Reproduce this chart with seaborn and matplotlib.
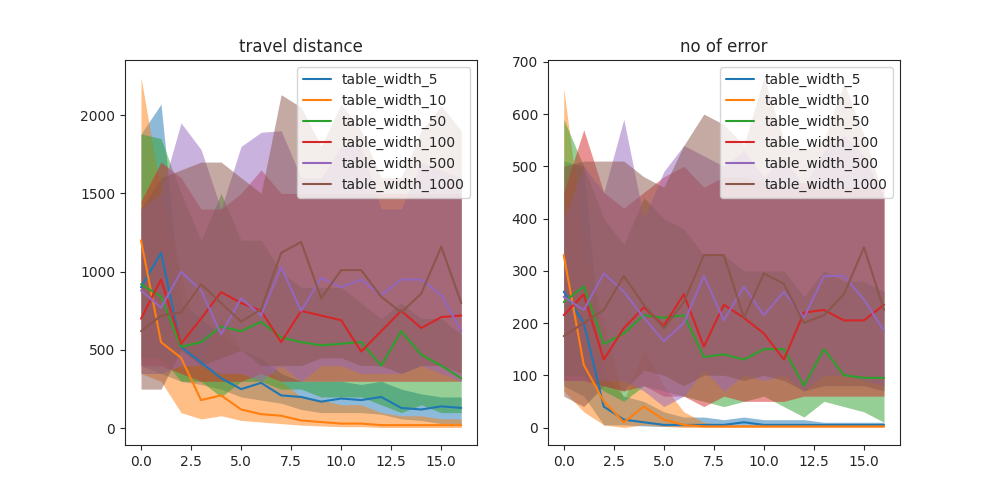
import numpy as np
import seaborn as sns
import matplotlib
matplotlib.use("Agg")
import matplotlib.pyplot as plt

steps = list(range(17))
names = ["table_width_5", "table_width_10", "table_width_50",
         "table_width_100", "table_width_500", "table_width_1000"]

# travel distance: mean, lower, upper
dist_mean = [
    [900, 1120, 520, 420, 320, 250, 290, 210, 200, 170, 190, 180, 200, 130, 120, 140, 130],
    [1200, 550, 450, 180, 210, 120, 90, 80, 50, 40, 30, 30, 20, 20, 20, 20, 20],
    [920, 840, 520, 550, 650, 620, 680, 580, 550, 530, 540, 550, 400, 620, 470, 400, 320],
    [700, 950, 540, 700, 870, 800, 750, 550, 750, 720, 690, 490, 620, 750, 640, 710, 720],
    [880, 770, 1000, 880, 600, 830, 720, 1030, 750, 960, 900, 950, 850, 950, 950, 850, 620],
    [620, 720, 740, 920, 800, 680, 760, 1120, 1190, 830, 1010, 1010, 840, 740, 860, 1160, 800],
]
dist_low = [
    [400, 350, 300, 280, 250, 200, 180, 160, 120, 100, 100, 100, 90, 60, 50, 30, 30],
    [350, 300, 100, 60, 80, 50, 40, 30, 20, 15, 10, 10, 5, 5, 5, 5, 5],
    [450, 450, 300, 300, 200, 300, 300, 250, 250, 200, 200, 200, 150, 100, 150, 100, 100],
    [400, 400, 350, 300, 300, 300, 350, 300, 300, 300, 300, 300, 300, 300, 300, 300, 300],
    [350, 350, 400, 400, 350, 350, 300, 400, 300, 400, 400, 350, 350, 350, 400, 350, 300],
    [250, 250, 500, 400, 450, 500, 400, 400, 400, 450, 450, 400, 400, 350, 400, 400, 350],
]
dist_high = [
    [1880, 2070, 800, 700, 600, 500, 450, 350, 300, 300, 300, 280, 300, 250, 220, 200, 200],
    [2240, 1500, 1000, 400, 700, 500, 400, 300, 200, 180, 150, 150, 100, 80, 80, 60, 60],
    [1880, 1850, 1500, 1200, 1500, 1200, 1200, 1000, 900, 900, 900, 800, 700, 800, 700, 700, 600],
    [1450, 1700, 1600, 1400, 1400, 1500, 1650, 1500, 1500, 1500, 1500, 1500, 1500, 1500, 1500, 1500, 1500],
    [1400, 1500, 1950, 1780, 1400, 1800, 1890, 1900, 1600, 1600, 1800, 1800, 1400, 1400, 1700, 1650, 1600],
    [1400, 1600, 1650, 1700, 1700, 1600, 1500, 2130, 2050, 1800, 2070, 1900, 1600, 1600, 1900, 2060, 1900],
]

# no of error: mean, lower, upper
err_mean = [
    [260, 200, 40, 15, 10, 5, 5, 5, 5, 10, 5, 5, 5, 5, 5, 5, 5],
    [330, 120, 50, 10, 40, 15, 5, 2, 2, 2, 2, 2, 2, 2, 2, 2, 2],
    [240, 270, 160, 180, 215, 210, 215, 135, 140, 130, 150, 150, 80, 150, 100, 95, 95],
    [215, 255, 130, 190, 230, 195, 255, 155, 235, 210, 180, 130, 220, 225, 205, 205, 235],
    [250, 225, 295, 260, 210, 165, 200, 290, 205, 270, 215, 260, 210, 290, 290, 245, 185],
    [175, 200, 225, 290, 235, 190, 240, 330, 330, 210, 295, 275, 200, 215, 255, 345, 225],
]
err_low = [
    [80, 60, 5, 5, 3, 2, 2, 2, 2, 3, 2, 2, 2, 2, 2, 2, 2],
    [70, 30, 5, 0, 5, 2, 0, 0, 0, 0, 0, 0, 0, 0, 0, 0, 0],
    [100, 100, 70, 50, 80, 70, 60, 50, 40, 50, 60, 40, 20, 50, 40, 30, 10],
    [90, 90, 80, 70, 80, 60, 60, 40, 60, 50, 50, 50, 60, 60, 60, 60, 60],
    [90, 90, 90, 90, 70, 40, 60, 110, 70, 100, 90, 100, 70, 100, 100, 90, 80],
    [60, 40, 80, 70, 110, 100, 80, 100, 100, 90, 100, 90, 70, 80, 80, 80, 70],
]
err_high = [
    [510, 500, 100, 60, 50, 30, 20, 20, 15, 20, 15, 15, 15, 10, 10, 10, 10],
    [650, 350, 200, 50, 150, 80, 30, 10, 5, 5, 5, 5, 5, 5, 5, 5, 5],
    [590, 500, 400, 350, 440, 400, 380, 330, 330, 300, 300, 300, 250, 300, 280, 280, 260],
    [450, 570, 450, 420, 450, 480, 500, 460, 480, 480, 470, 460, 470, 460, 460, 460, 460],
    [400, 500, 450, 590, 400, 490, 540, 520, 500, 530, 480, 520, 460, 530, 560, 520, 440],
    [500, 510, 510, 510, 480, 460, 540, 600, 580, 540, 670, 550, 530, 550, 660, 560, 440],
]

sns.set_style("ticks")
palette = sns.color_palette("tab10", 6)
fig, axes = plt.subplots(1, 2, figsize=(10, 5), dpi=100)

panels = [("travel distance", dist_mean, dist_low, dist_high),
          ("no of error", err_mean, err_low, err_high)]
for ax, (title, means, lows, highs) in zip(axes, panels):
    for i, name in enumerate(names):
        sns.lineplot(x=steps, y=means[i], color=palette[i], label=name, ax=ax)
        ax.fill_between(steps, lows[i], highs[i], color=palette[i], alpha=0.5, linewidth=0)
    ax.set_title(title)
    ax.legend(loc="upper right")

fig.savefig("out.png")
